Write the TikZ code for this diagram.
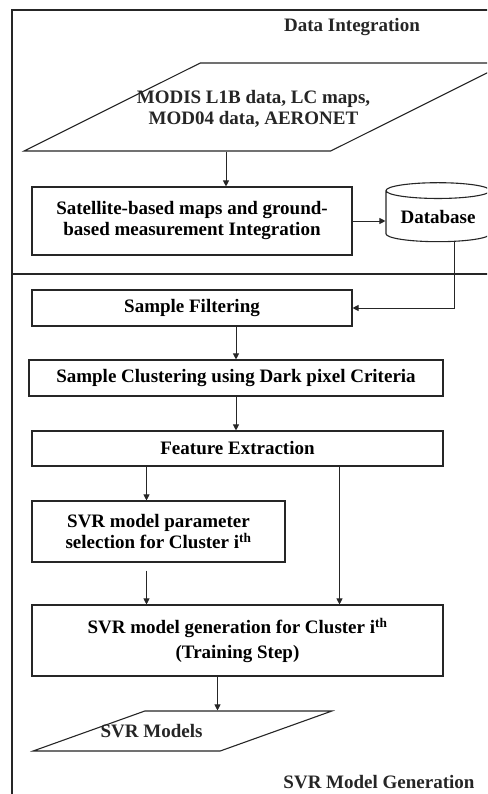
\documentclass[tikz,border=0pt]{standalone}
\usepackage{fontspec}
\setmainfont{Liberation Serif}
\usetikzlibrary{arrows.meta,positioning,shapes.geometric}
\definecolor{ink}{HTML}{262626}
\newcommand{\boxfont}{\fontsize{19}{21}\selectfont\bfseries}
\tikzset{
  procbox/.style={
    rectangle, draw=ink, fill=white, line width=1.1pt,
    minimum width=#1, font=\boxfont, align=center,
    inner sep=2pt
  },
  procbox/.default=320pt,
  iobox/.style={
    trapezium, trapezium stretches=true, draw=ink, fill=white,
    line width=1.1pt, font=\boxfont, align=center, inner sep=2pt
  },
  dbnode/.style={
    cylinder, shape border rotate=90, aspect=0.2, draw=ink, fill=white,
    line width=1.1pt, font=\boxfont, inner sep=2pt
  },
  flowarrow/.style={
    -{Triangle[length=6pt,width=6pt]}, line width=0.9pt, color=ink
  },
  titlelabel/.style={font=\boxfont, color=ink},
  framerule/.style={line width=1.2pt, color=ink},
}

\begin{document}
\begin{tikzpicture}[x=1pt, y=-1pt]
  \clip (0,0) rectangle (487,794);
  % outer frame and the line between the two stages
  \draw[framerule] (500,10) -| (12,800);
  \draw[framerule] (12,274) -- (500,274);
  \node[titlelabel] (integtitle) at (352,27) {Data Integration};
  \node[titlelabel] (gentitle) at (379,782) {SVR Model Generation};

  \node[iobox, trapezium left angle=36.5, trapezium right angle=143.5,
        minimum width=483pt, minimum height=88pt,
        label={[titlelabel, align=center, xshift=-12pt, yshift=-2pt]center:MODIS L1B data, LC maps,\\MOD04 data, AERONET}]
        (input) at (265.5,107) {};
  \node[procbox, minimum height=68pt] (integ) at (192,221)
        {Satellite-based maps and ground-\\based measurement Integration};
  \node[dbnode, minimum width=104pt, minimum height=59pt] (db) at (438,217.5) {Database};
  \node[procbox, minimum height=36pt] (filt) at (192,308) {Sample Filtering};
  \node[procbox=414pt, minimum height=36pt] (clus) at (236,378)
        {Sample Clustering using Dark pixel Criteria};
  \node[procbox=411pt, minimum height=35pt] (feat) at (237.5,448.5) {Feature Extraction};
  \node[procbox=253pt, minimum height=61pt] (param) at (158.5,531.5)
        {SVR model parameter\\selection for Cluster i\textsuperscript{th}};
  \node[procbox=411pt, minimum height=71pt] (gen) at (237.5,640.5)
        {SVR model generation for Cluster i\textsuperscript{th}\\[4pt](Training Step)};
  \node[iobox, trapezium left angle=34, trapezium right angle=146,
        minimum width=299pt, minimum height=40pt,
        label={[titlelabel, xshift=-31pt]center:SVR Models}]
        (models) at (182.5,731) {};

  \draw[flowarrow] ([xshift=34pt]integ.north |- input.south) -- ([xshift=34pt]integ.north);
  \draw[flowarrow] (integ.east) -- (integ.east -| db.west);
  \draw[flowarrow] ([xshift=16pt]db.south) |- (filt.east);
  \draw[flowarrow] (filt.south -| clus.north) -- (clus.north);
  \draw[flowarrow] (clus.south) -- (clus.south |- feat.north);
  \draw[flowarrow] ([xshift=-12pt]param.north |- feat.south) -- ([xshift=-12pt]param.north);
  \draw[flowarrow] ([xshift=102pt]gen.north |- feat.south) -- ([xshift=102pt]gen.north);
  \draw[flowarrow] ([xshift=-12pt,yshift=-8pt]param.south) -- ([xshift=-12pt]param.south |- gen.north);
  \draw[flowarrow] ([xshift=-20pt]gen.south) -- ([xshift=-20pt]gen.south |- models.north);
\end{tikzpicture}
\end{document}
